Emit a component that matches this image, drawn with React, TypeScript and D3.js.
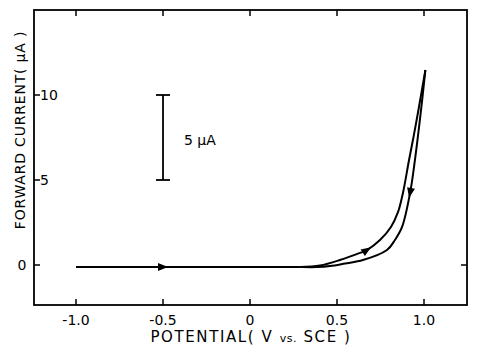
import React from 'react';
import * as d3 from 'd3';

// forward scan: flat from -1.0 V, then rises along the left branch
const baseV = [-1.0, -0.5, 0.0, 0.287];
const baseI = [-0.12, -0.12, -0.12, -0.12];
const fwdV = [0.287, 0.402, 0.517, 0.632, 0.672, 0.747, 0.81, 0.851, 0.879, 0.914, 0.943, 0.968, 1.008];
const fwdI = [-0.12, -0.03, 0.29, 0.71, 0.88, 1.47, 2.24, 3.12, 4.24, 6.18, 7.71, 9.12, 11.47];
// reverse scan: comes down along the right branch
const revV = [1.008, 0.983, 0.948, 0.92, 0.874, 0.833, 0.787, 0.649, 0.546, 0.46, 0.385, 0.3];
const revI = [11.47, 9.12, 6.18, 4.24, 2.24, 1.47, 0.88, 0.29, 0.09, -0.06, -0.12, -0.12];

const xTicks = [-1.0, -0.5, 0, 0.5, 1.0];
const xTickLabels = ['-1.0', '-0.5', '0', '0.5', '1.0'];
const yTicks = [0, 5, 10];
const yTickLabels = ['0', '5', '10'];

const W = 478;
const H = 352;
const left = 34, right = 467, top = 10, bottom = 305;

const App: React.FC = () => {
  const x = d3.scaleLinear().domain([0, 1]).range([250, 424]);
  const y = d3.scaleLinear().domain([0, 5]).range([265, 180]);

  const line = d3.line<[number, number]>()
    .x(d => x(d[0]))
    .y(d => y(d[1]))
    .curve(d3.curveCatmullRom.alpha(0.5));

  const zip = (a: number[], b: number[]) => a.map((v, i) => [v, b[i]] as [number, number]);

  const basePts = zip(baseV, baseI);
  const fwdPts = zip(fwdV, fwdI);
  const revPts = zip(revV, revI);

  // arrowhead at point i of a series, pointing toward the neighbour points' direction
  const arrow = (pts: [number, number][], i: number, key: string) => {
    const p = pts[i];
    const a = pts[i - 1];
    const q = pts[i + 1];
    const ang = Math.atan2(y(q[1]) - y(a[1]), x(q[0]) - x(a[0])) * 180 / Math.PI;
    return (
      <path key={key} d="M5,0 L-5,-4 L-5,4 Z" fill="#000"
        transform={`translate(${x(p[0])},${y(p[1])}) rotate(${ang})`} />
    );
  };

  const font = "'DejaVu Sans', 'Liberation Sans', sans-serif";

  return (
    <svg width={W} height={H} style={{ position: 'absolute', left: 0, top: 0, background: '#fff' }}>
      <rect x={left} y={top} width={right - left} height={bottom - top} fill="none" stroke="#000" strokeWidth={1.8} />
      {xTicks.map(t => (
        <g key={'xt' + t}>
          <line x1={x(t)} x2={x(t)} y1={bottom} y2={bottom - 6} stroke="#000" strokeWidth={1.5} />
          <line x1={x(t)} x2={x(t)} y1={top} y2={top + 6} stroke="#000" strokeWidth={1.5} />
        </g>
      ))}
      {yTicks.map(t => (
        <line key={'yt' + t} x1={left} x2={left + 6} y1={y(t)} y2={y(t)} stroke="#000" strokeWidth={1.5} />
      ))}
      <line x1={right} x2={right - 6} y1={y(0)} y2={y(0)} stroke="#000" strokeWidth={1.5} />

      {xTicks.map((t, i) => (
        <text key={'xl' + t} x={x(t)} y={325} textAnchor="middle" fontFamily={font} fontSize={14}>
          {xTickLabels[i]}
        </text>
      ))}
      {yTicks.map((t, i) => (
        <text key={'yl' + t} x={t === 0 ? 22 : 40} y={y(t) + 5}
          textAnchor={t === 0 ? 'middle' : 'start'} fontFamily={font} fontSize={14}>
          {yTickLabels[i]}
        </text>
      ))}

      <text x={251} y={342} textAnchor="middle" fontFamily={font} fontSize={15} letterSpacing={1.6}>
        POTENTIAL( V <tspan fontSize={11} letterSpacing={0.5}>vs.</tspan> SCE )
      </text>
      <text transform="translate(25,130) rotate(-90)" textAnchor="middle" fontFamily={font} fontSize={14} letterSpacing={0.8}>
        FORWARD  CURRENT( µA )
      </text>

      {/* 5 µA scale bar */}
      <line x1={x(-0.5)} x2={x(-0.5)} y1={y(10)} y2={y(5)} stroke="#000" strokeWidth={1.8} />
      <line x1={x(-0.5) - 7} x2={x(-0.5) + 7} y1={y(10)} y2={y(10)} stroke="#000" strokeWidth={1.8} />
      <line x1={x(-0.5) - 7} x2={x(-0.5) + 7} y1={y(5)} y2={y(5)} stroke="#000" strokeWidth={1.8} />
      <text x={184} y={145} fontFamily={font} fontSize={14}>5 µA</text>

      <path d={line(basePts) || ''} fill="none" stroke="#000" strokeWidth={2} />
      <path d={line(fwdPts) || ''} fill="none" stroke="#000" strokeWidth={2} />
      <path d={line(revPts) || ''} fill="none" stroke="#000" strokeWidth={2} />
      {arrow(basePts, 1, 'a1')}
      {arrow(fwdPts, 4, 'a2')}
      {arrow(revPts, 3, 'a3')}
    </svg>
  );
};

export default App;
